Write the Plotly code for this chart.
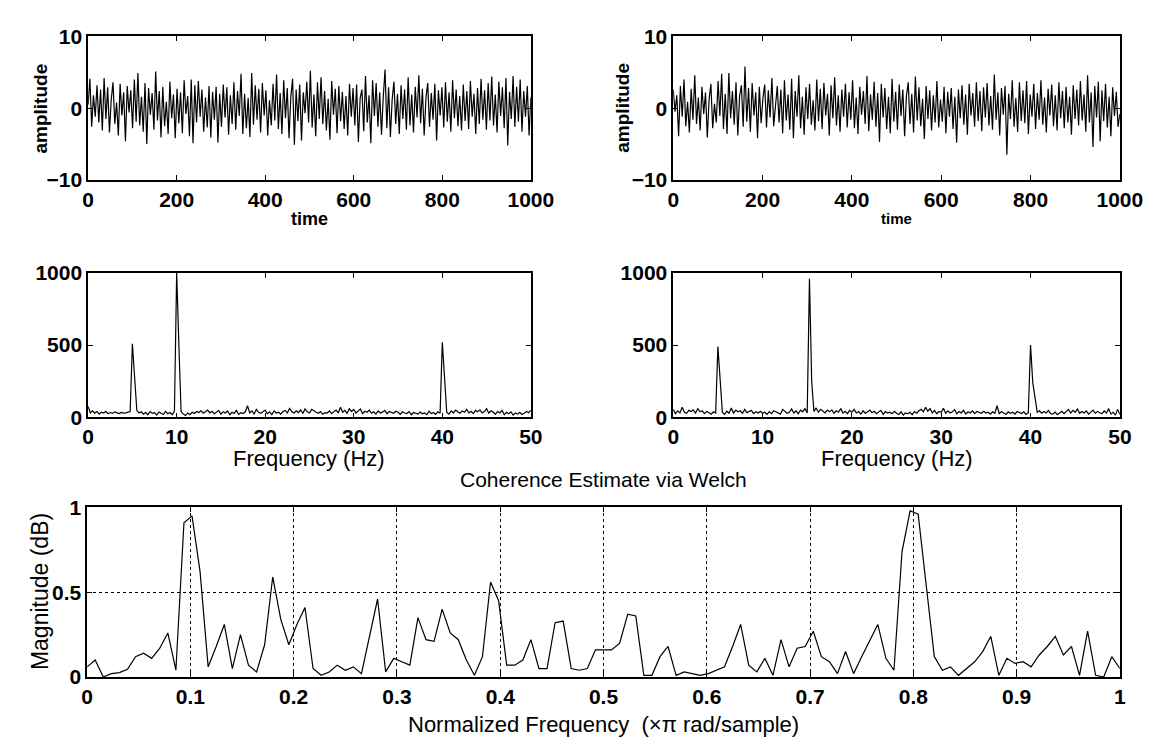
import numpy as np
import plotly.graph_objects as go

W, H = 1169, 743

# ---------------- data ----------------
sig1 = [
    0.5, 4.1, -2.6, 1.8, -1.2, 3.2, -2.0, 2.6, -3.1, 4.2, -1.5, 2.9, -3.4, 1.2, 3.6, -2.2, 0.8, -3.8, 3.4, -1.0, 2.2, -4.6, 3.1, -0.6, 2.5,
    -2.8, 4.0, -1.9, 4.9, -2.4, 1.6, -3.3, 3.5, -5.0, 2.8, -0.9, 2.1, -3.0, 5.1, -1.7, 2.4, -4.1, 3.0, -2.5, 0.9, -3.6, 3.7, -1.4, 1.9, -4.2,
    2.7, -2.1, 2.2, -3.5, 3.9, -0.8, 1.7, -3.9, 4.0, -4.9, 3.2, -2.0, 3.8, -1.2, 2.6, -3.3, 1.5, -2.7, 3.1, -4.1, 2.3, -1.6, 3.0, -4.8, 2.0,
    -2.6, 3.3, -1.3, 2.9, -3.7, 1.8, -2.2, 3.6, -3.0, 2.4, -1.1, 4.8, -3.6, 2.0, -2.8, 1.4, -4.0, 4.9, -2.3, 3.2, -1.6, 2.7, -3.4, 3.5, -1.0,
    2.5, -3.8, 1.1, -2.4, 3.4, -1.7, 4.7, -2.9, 2.1, -3.6, 3.9, -1.4, 2.8, -4.2, 1.6, 4.1, -5.1, 2.6, -1.8, 3.3, -4.5, 2.2, -0.7, 3.7, -2.0,
    5.2, -2.7, 1.9, -3.9, 3.6, -1.5, 4.3, -2.2, 2.4, -3.1, 1.3, -4.4, 3.8, -0.9, 2.7, -3.5, 3.1, -1.8, 2.3, -2.9, 1.7, -3.8, 3.4, -1.2, 2.8,
    -2.4, 3.3, -4.7, 1.4, 2.6, -3.2, 4.5, -2.0, 1.8, -4.9, 3.9, -1.1, 3.5, -2.6, 2.2, -3.7, 1.6, 5.4, -2.8, 2.9, -4.0, 1.2, 3.7, -2.2, 2.0,
    -3.6, 3.2, -1.5, 2.6, -3.0, 4.3, -2.4, 1.9, -3.4, 3.0, -1.3, 4.6, -2.1, 2.7, -3.8, 1.4, 3.5, -2.6, 2.1, -1.6, 3.4, -4.5, 2.5, -1.0, 2.9,
    -2.7, 3.6, -1.9, 2.2, -3.3, 3.9, -1.4, 2.6, -2.5, 1.7, -3.1, 3.3, -1.8, 2.4, -2.9, 3.8, -1.2, 2.0, -3.6, 2.8, -2.2, 4.1, -1.6, 2.5, -3.0,
    3.5, -1.7, 4.4, -2.4, 1.9, -3.4, 3.7, -1.1, 2.9, -2.8, 4.2, -5.2, 2.3, -1.5, 4.5, -2.6, 3.0, -1.9, 4.0, -3.3, 2.4, -1.2, 3.1, -3.8, 1.5,
]

sig2 = [
    2.6, -0.5, 1.8, -3.9, 3.1, -1.2, 4.0, -2.5, 0.9, -3.4, 2.7, -1.6, 4.6, -2.2, 1.5, -3.1, 3.0, -0.8, 2.2, -4.1, 1.2, 3.4, -2.8, 0.6, -2.0,
    3.8, -1.1, 4.8, -2.9, 2.0, -3.6, 4.9, -1.4, 2.4, -2.3, 3.6, -3.8, 1.7, 3.2, -2.6, 5.8, -1.9, 2.8, -3.3, 3.5, -1.0, 2.2, -4.2, 3.0, -2.1,
    1.4, 3.3, -2.7, 2.5, -1.3, 4.2, -2.5, 0.8, 3.1, -2.0, 2.6, -3.5, 3.9, -1.7, 1.9, -3.0, 4.1, -4.2, 2.4, -1.2, 4.6, -2.8, 1.6, -3.7, 2.9,
    -1.5, 3.4, -2.3, 1.1, -3.1, 4.0, -1.8, 2.7, -2.9, 3.5, -1.0, 2.0, -3.8, 3.2, -1.4, 4.3, -2.4, 1.8, -3.3, 2.6, -1.2, 3.4, -2.7, 2.2, -1.6,
    3.9, -2.8, 1.5, -3.6, 3.0, -0.9, 2.4, -2.2, 4.5, -3.2, 1.9, -1.6, 3.7, -2.6, 2.1, -4.7, 3.4, -1.3, 2.8, -2.9, 1.6, -3.5, 4.1, -1.9, 2.3,
    -3.0, 3.3, -1.1, 2.6, -3.9, 1.7, 3.6, -2.2, 2.0, -3.4, 4.4, -1.7, 2.9, -2.5, 1.3, -4.3, 3.1, -1.5, 2.5, -3.1, 1.8, -2.0, 3.8, -2.7, 1.2,
    -1.9, 3.0, -3.5, 2.3, -1.2, 2.8, -2.9, 1.6, -4.8, 2.6, -1.4, 3.2, -2.3, 1.9, -3.7, 3.4, -1.0, 2.1, -2.6, 3.6, -1.8, 2.4, -3.2, 2.9, -1.3,
    3.5, -2.4, 1.7, -3.0, 4.7, -1.6, 2.2, -3.8, 2.8, -0.9, 3.1, -6.5, 2.0, -1.5, 3.9, -2.6, 1.4, -3.3, 3.6, -1.8, 2.5, -2.1, 3.8, -3.6, 1.9,
    -1.2, 3.4, -2.9, 2.1, -1.6, 3.9, -2.3, 1.5, -3.4, 2.7, -1.0, 3.3, -2.5, 1.8, -3.1, 3.6, -1.4, 2.4, -2.8, 3.0, -2.0, 1.6, -3.7, 3.2, -1.5,
    2.6, -2.4, 3.8, -1.7, 1.9, -3.3, 4.6, -2.0, 2.2, -5.4, 3.1, -1.3, 3.7, -4.6, 2.5, -1.8, 3.4, -2.7, 1.6, -3.9, 2.9, -1.1, 2.3, -2.6, -0.8,
]

spec1 = [
    75, 30, 45, 28, 40, 22, 35, 30, 42, 25,
    33, 27, 38, 30, 26, 34, 29, 31, 36, 40,
    510, 265, 48, 30, 38, 22, 35, 18, 40, 27,
    32, 15, 37, 28, 20, 41, 25, 33, 18, 45,
    1000, 500, 40, 22, 12, 30, 18, 35, 26, 40,
    33, 45, 28, 38, 50, 30, 42, 25, 36, 47,
    22, 39, 30, 44, 18, 35, 27, 48, 20, 32,
    26, 38, 80, 30, 45, 22, 55, 35, 28, 42,
    50, 25, 38, 18, 44, 30, 35, 22, 40, 48,
    30, 62, 40, 28, 45, 33, 52, 26, 58, 38,
    30, 55, 42, 35, 28, 40, 22, 33, 30, 45,
    25, 38, 50, 30, 70, 35, 48, 28, 60, 40,
    55, 30, 45, 58, 25, 42, 35, 50, 28, 38,
    22, 44, 30, 36, 48, 25, 40, 32, 28, 42,
    35, 20, 38, 30, 26, 40, 18, 34, 28, 22,
    36, 24, 30, 18, 42, 26, 33, 20, 38, 28,
    520, 270, 35, 22, 45, 30, 50, 38, 28, 44,
    35, 55, 30, 42, 26, 48, 38, 52, 30, 40,
    60, 28, 45, 35, 22, 40, 30, 48, 18, 35,
    25, 38, 15, 30, 22, 35, 20, 28, 40, 32,
    50,
]

spec2 = [
    55, 25, 45, 30, 70, 35, 28, 48, 40, 52,
    30, 60, 38, 45, 25, 40, 32, 22, 38, 30,
    490, 240, 35, 20, 42, 28, 65, 30, 50, 38,
    45, 28, 55, 32, 40, 48, 25, 38, 30, 42,
    28, 35, 20, 40, 25, 45, 38, 30, 22, 55,
    40, 28, 35, 58, 30, 45, 25, 50, 38, 60,
    30, 960, 250, 40, 65, 35, 55, 42, 30, 50,
    38, 52, 28, 45, 35, 60, 30, 42, 25, 48,
    35, 55, 30, 40, 22, 45, 28, 38, 50, 32,
    42, 25, 36, 48, 20, 40, 30, 35, 25, 42,
    28, 20, 38, 15, 30, 25, 35, 18, 40, 28,
    45, 55, 38, 70, 42, 60, 30, 48, 25, 40,
    35, 62, 28, 45, 30, 38, 52, 25, 40, 30,
    48, 22, 38, 30, 45, 25, 40, 32, 28, 42,
    30, 35, 22, 38, 28, 80, 25, 40, 32, 20,
    38, 28, 35, 22, 40, 30, 26, 38, 20, 32,
    500, 240, 130, 35, 45, 28, 40, 30, 48, 25,
    22, 36, 18, 30, 42, 25, 38, 55, 30, 48,
    35, 58, 28, 40, 30, 45, 22, 38, 50, 28,
    40, 32, 25, 45, 30, 60, 22, 35, 15, 55,
    20,
]

coh = [
    0.06, 0.10, 0.0, 0.02, 0.026, 0.046, 0.12, 0.14, 0.11, 0.17,
    0.26, 0.04, 0.91, 0.95, 0.62, 0.06, 0.18, 0.31, 0.05, 0.25,
    0.07, 0.03, 0.19, 0.59, 0.34, 0.19, 0.31, 0.41, 0.05, 0.01,
    0.03, 0.07, 0.04, 0.06, 0.02, 0.25, 0.46, 0.03, 0.11, 0.09,
    0.07, 0.35, 0.22, 0.21, 0.40, 0.26, 0.22, 0.10, 0.01, 0.12,
    0.56, 0.45, 0.07, 0.07, 0.10, 0.22, 0.05, 0.05, 0.32, 0.33,
    0.05, 0.04, 0.05, 0.16, 0.16, 0.16, 0.20, 0.37, 0.36, 0.01,
    0.01, 0.12, 0.18, 0.01, 0.03, 0.02, 0.01, 0.02, 0.04, 0.06,
    0.18, 0.31, 0.07, 0.03, 0.11, 0.01, 0.22, 0.06, 0.17, 0.18,
    0.27, 0.12, 0.09, 0.02, 0.15, 0.02, 0.12, 0.22, 0.31, 0.11,
    0.04, 0.74, 0.98, 0.96, 0.53, 0.12, 0.04, 0.06, 0.01, 0.05,
    0.09, 0.15, 0.24, 0.01, 0.11, 0.08, 0.09, 0.06, 0.13, 0.18,
    0.24, 0.13, 0.18, 0.01, 0.27, 0.01, 0.0, 0.12, 0.05,
]

t1 = np.linspace(0, 1000, len(sig1))
t2 = np.linspace(0, 1000, len(sig2))
f1 = np.linspace(0, 50, len(spec1))
f2 = np.linspace(0, 50, len(spec2))
fn = np.linspace(0, 1, len(coh))

time_ticks = [0, 200, 400, 600, 800, 1000]
amp_ticks = [-10, 0, 10]
freq_ticks = [0, 10, 20, 30, 40, 50]
pow_ticks = [0, 500, 1000]
nf_ticks = [0, 0.1, 0.2, 0.3, 0.4, 0.5, 0.6, 0.7, 0.8, 0.9, 1]
mag_ticks = [0, 0.5, 1]

# ---------------- figure ----------------
FONT = "Liberation Sans, Arial, sans-serif"
line = dict(color="black", width=1.2)

fig = go.Figure()
fig.add_trace(go.Scatter(x=t1, y=sig1, mode="lines", line=line, xaxis="x", yaxis="y"))
fig.add_trace(go.Scatter(x=t2, y=sig2, mode="lines", line=line, xaxis="x2", yaxis="y2"))
fig.add_trace(go.Scatter(x=f1, y=spec1, mode="lines", line=line, xaxis="x3", yaxis="y3"))
fig.add_trace(go.Scatter(x=f2, y=spec2, mode="lines", line=line, xaxis="x4", yaxis="y4"))
fig.add_trace(go.Scatter(x=fn, y=coh, mode="lines", line=line, xaxis="x5", yaxis="y5"))


def px_x(p):
    return p / W


def px_y(p):
    return 1 - p / H


def ax(domain, rng, ticks, anchor, grid=False, size=21):
    return dict(
        domain=domain, range=rng, tickvals=ticks, anchor=anchor,
        showline=True, linecolor="black", linewidth=1.5, mirror="allticks",
        ticks="inside", ticklen=5, tickcolor="black", tickwidth=1.2,
        zeroline=False, showgrid=grid, gridcolor="black", gridwidth=1, griddash="dot",
        tickfont=dict(family=FONT, size=size, color="black", weight="bold"),
    )


xl = [px_x(76), px_x(530)]
xr = [px_x(676), px_x(1134)]
yt = [px_y(165), px_y(17)]
ym = [px_y(410), px_y(261)]
yb = [px_y(678), px_y(503)]

fig.update_layout(
    width=W, height=H,
    margin=dict(l=0, r=0, t=0, b=0),
    paper_bgcolor="white", plot_bgcolor="white",
    showlegend=False,
    font=dict(family=FONT, color="black"),
    xaxis=ax(xl, [0, 1000], time_ticks, "y"),
    yaxis=ax(yt, [-10, 10], amp_ticks, "x"),
    xaxis2=ax(xr, [0, 1000], time_ticks, "y2"),
    yaxis2=ax(yt, [-10, 10], amp_ticks, "x2"),
    xaxis3=ax(xl, [0, 50], freq_ticks, "y3"),
    yaxis3=ax(ym, [0, 1000], pow_ticks, "x3"),
    xaxis4=ax(xr, [0, 50], freq_ticks, "y4"),
    yaxis4=ax(ym, [0, 1000], pow_ticks, "x4"),
    xaxis5=ax([px_x(75), px_x(1134)], [0, 1], nf_ticks, "y5", grid=True),
    yaxis5=ax(yb, [0, 1], mag_ticks, "x5", grid=True),
)


def label(text, x, y, size, angle=0, weight="normal"):
    fig.add_annotation(
        text=text, x=px_x(x), y=px_y(y), xref="paper", yref="paper",
        showarrow=False, textangle=angle, xanchor="center", yanchor="middle",
        font=dict(family=FONT, size=size, color="black", weight=weight),
    )


label("amplitude", 27, 91, 19, -90, "bold")
label("amplitude", 624, 91, 19, -90, "bold")
label("time", 303, 205, 18, 0, "bold")
label("time", 905, 205, 15, 0, "bold")
label("Frequency (Hz)", 303, 453, 22)
label("Frequency (Hz)", 905, 453, 22)
label("Coherence Estimate via Welch", 604, 474, 21)
label("Magnitude (dB)", 26, 590, 23, -90)
label("Normalized Frequency  (\u00d7\u03c0 rad/sample)", 604, 727, 22)

fig.write_html("out.html")
